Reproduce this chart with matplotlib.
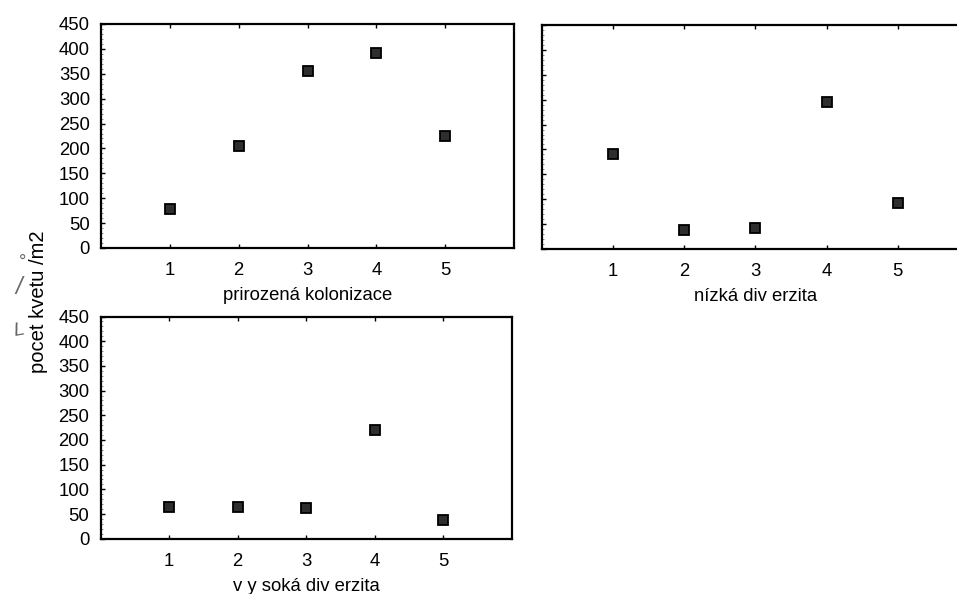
import matplotlib
matplotlib.use("Agg")
import matplotlib.pyplot as plt
from matplotlib.ticker import MultipleLocator

plt.rcParams['font.family'] = ['Liberation Sans', 'DejaVu Sans']

x_vals = [1, 2, 3, 4, 5]
prirozena = [78, 205, 355, 391, 225]
nizka = [190, 38, 43, 295, 92]
vysoka = [65, 64, 63, 220, 38]

panel_labels = ["prirozená kolonizace", "nízká div erzita", "v y soká div erzita"]
y_ticks = [0, 50, 100, 150, 200, 250, 300, 350, 400, 450]
x_ticks = [1, 2, 3, 4, 5]
ylabel = "pocet kvetu /m2"

W, H = 957, 594
fig = plt.figure(figsize=(W / 100, H / 100), dpi=100)

def px_axes(left, right, top, bottom):
    return fig.add_axes([left / W, 1 - bottom / H, (right - left) / W, (bottom - top) / H])

ax1 = px_axes(101, 514, 24, 248)
ax2 = px_axes(541.5, 969, 25, 249)
ax3 = px_axes(100.5, 511.5, 316.5, 538.7)

def style(ax, data, label, show_y=True):
    ax.plot(x_vals, data, linestyle='none', marker='s', markersize=6.5,
            markerfacecolor='#2e2e2e', markeredgecolor='black', markeredgewidth=1.3)
    ax.set_xlim(0, 6)
    ax.set_ylim(0, 450)
    ax.set_xticks(x_ticks)
    ax.set_yticks(y_ticks)
    ax.yaxis.set_minor_locator(MultipleLocator(10))
    ax.tick_params(axis='both', which='major', direction='in', length=3, width=1,
                   top=True, right=False, labelsize=13.3, pad=8)
    ax.tick_params(axis='x', which='major', pad=10)
    ax.tick_params(axis='y', which='minor', direction='in', length=1.5, width=0.6, color='#777')
    if not show_y:
        ax.tick_params(axis='y', labelleft=False)
    for s in ax.spines.values():
        s.set_linewidth(1.6)
    ax.set_xlabel(label, fontsize=13.3, labelpad=6)

style(ax1, prirozena, panel_labels[0])
style(ax2, nizka, panel_labels[1], show_y=False)
style(ax3, vysoka, panel_labels[2])

fig.text(38 / W, 1 - 302 / H, ylabel, rotation=90, ha='center', va='center', fontsize=14.5)
# handwritten hacek marks
fig.text(19 / W, 1 - 331 / H, "L", rotation=10, ha='center', va='center', fontsize=14,
         color='#666', fontstyle='italic', fontweight='light')
fig.text(19 / W, 1 - 287 / H, "/", rotation=0, ha='center', va='center', fontsize=17,
         color='#666', fontstyle='italic', fontweight='light')
fig.text(23 / W, 1 - 262 / H, "°", rotation=0, ha='center', va='center', fontsize=13,
         color='#666', fontweight='light')

fig.savefig("out.png", dpi=100)
